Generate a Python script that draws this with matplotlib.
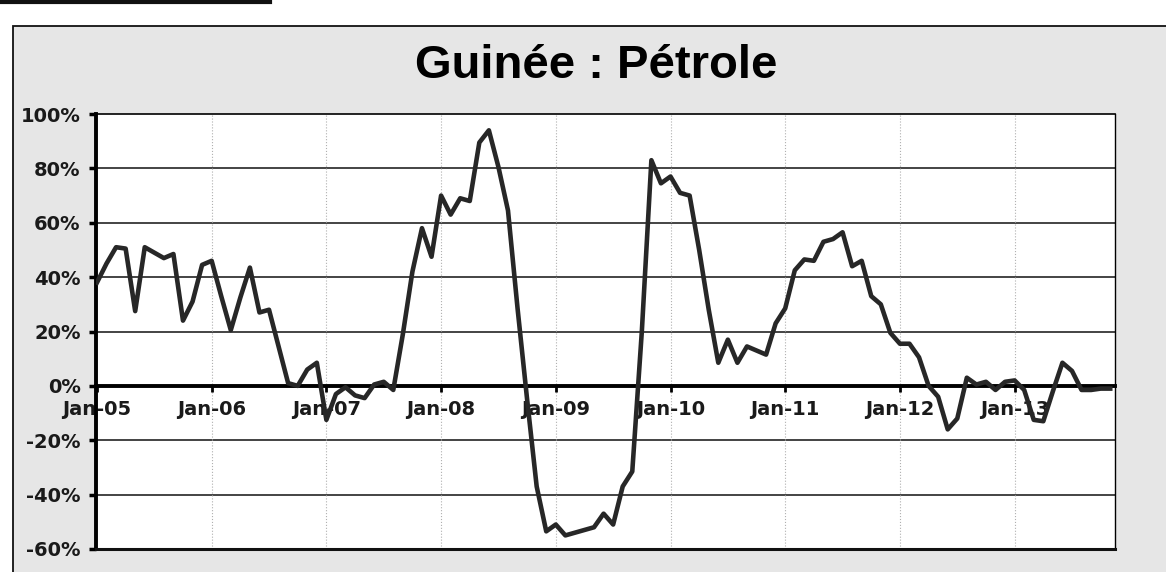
import matplotlib
matplotlib.use("Agg")
import matplotlib.pyplot as plt
from matplotlib.patches import Rectangle
from matplotlib.lines import Line2D

# données : variation annuelle (%) du prix du pétrole, mensuelle de Jan-05 à Nov-13
valeurs = [
    38, 45, 51, 50.5, 27.5, 51, 49, 47, 48.5, 24, 31, 44.5,        # 2005
    46, 33, 20.5, 32.5, 43.5, 27, 28, 14.5, 1, 0, 6, 8.5,           # 2006
    -12.5, -3, -0.5, -3.5, -4.5, 0.5, 1.5, -1.5, 19, 42, 58, 47.5,  # 2007
    70, 63, 69, 68, 89.5, 94, 80.5, 64.5, 28.5, -5, -37, -53.5,     # 2008
    -51, -55, -54, -53, -52, -47, -51, -37, -31.5, 20, 83, 74.5,    # 2009
    77, 71, 70, 50, 28, 8.5, 17, 8.5, 14.5, 13, 11.5, 23,           # 2010
    28.5, 42.5, 46.5, 46, 53, 54, 56.5, 44, 46, 33, 30, 19.5,       # 2011
    15.5, 15.5, 10.5, 0, -4, -16, -12, 3, 0.5, 1.5, -1.5, 1.5,      # 2012
    2, -1.5, -12.5, -13, -2, 8.5, 5.5, -1.5, -1.5, -1, -1,          # 2013
]
mois = list(range(len(valeurs)))

annees = ["05", "06", "07", "08", "09", "10", "11", "12", "13"]
x_labels = ["Jan-" + a for a in annees]
x_ticks = [12 * i for i in range(len(annees))]
y_ticks = [-60, -40, -20, 0, 20, 40, 60, 80, 100]

W, H = 1166, 572
fig = plt.figure(figsize=(W / 100, H / 100), dpi=100)
fig.patch.set_facecolor("white")

# fond gris de la zone graphique + cadre
fig.patches.append(Rectangle((13 / W, -0.1), 1.2, 1.1 - 26 / H,
                             transform=fig.transFigure, facecolor="#e6e6e6",
                             edgecolor="#111111", lw=1.3, zorder=-5))
fig.lines.append(Line2D([0, 270 / W], [1 - 2 / H, 1 - 2 / H], transform=fig.transFigure,
                        color="#111111", lw=3, zorder=-5))

# titre
fig.text(596 / W, 1 - 66 / H, "Guinée : Pétrole", ha="center", va="center",
         fontsize=34, fontweight="bold", family="Liberation Sans")

ax = fig.add_axes([96 / W, 1 - 549 / H, (1115 - 96) / W, (549 - 114) / H])
ax.set_zorder(2)
ax.set_facecolor("white")

ax.plot(mois, valeurs, color="#272727", lw=3.3, solid_joinstyle="round", zorder=5)

ax.set_xlim(-0.1, 106.5)
ax.set_ylim(-60, 100)

# grille
for y in y_ticks[1:-1]:
    if y != 0:
        ax.axhline(y, color="#111111", lw=1.1, zorder=1)
for xt in x_ticks[1:]:
    ax.axvline(xt, color="#b0b0b0", lw=0.8, ls=":", zorder=1)

# axes : l'axe des x coupe à 0
ax.spines["bottom"].set_position(("data", 0))
ax.spines["bottom"].set_linewidth(2.8)
ax.spines["bottom"].set_zorder(4)
ax.spines["left"].set_linewidth(2.8)
ax.spines["top"].set_linewidth(1.2)
ax.spines["right"].set_linewidth(1.0)
ax.axhline(-60, color="#111111", lw=2.2, clip_on=False, zorder=4)

ax.set_yticks(y_ticks)
ax.set_yticklabels(["{}%".format(v) for v in y_ticks])
ax.set_xticks(x_ticks)
ax.set_xticklabels(x_labels)

ax.tick_params(axis="y", direction="out", length=5, width=2.5, pad=6,
               labelsize=14)
ax.tick_params(axis="x", direction="out", length=4, width=2, pad=6,
               labelsize=14)
for lab in ax.get_xticklabels() + ax.get_yticklabels():
    lab.set_fontweight("bold")
    lab.set_family("DejaVu Sans")
    lab.set_color("#1a1a1a")

fig.savefig("out.png", dpi=100)
